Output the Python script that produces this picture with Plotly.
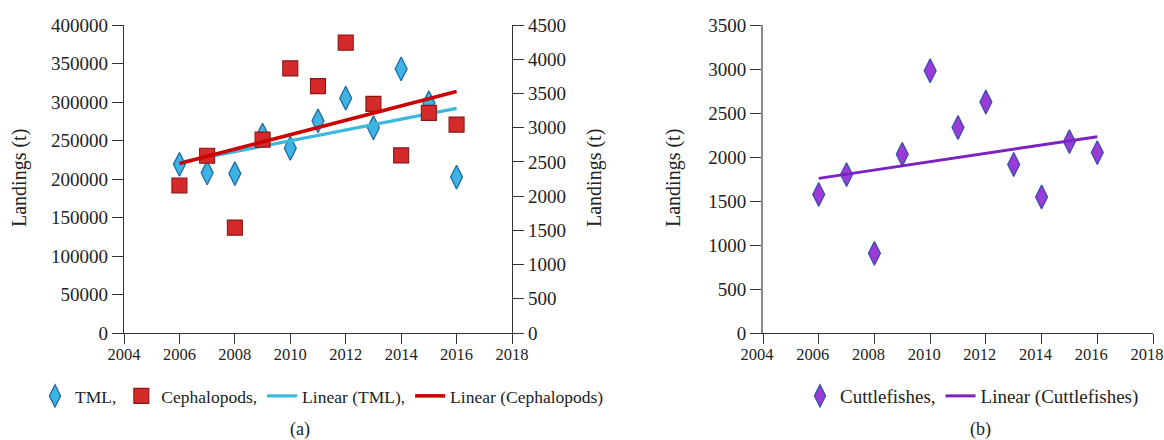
import numpy as np
import plotly.graph_objects as go

years = [2006, 2007, 2008, 2009, 2010, 2011, 2012, 2013, 2014, 2015, 2016]
tml = [219000, 208000, 207000, 257000, 240000, 275500, 305000, 266500, 343000, 299000, 202500]
cephalopods = [2155, 2590, 1540, 2825, 3866, 3607, 4242, 3348, 2595, 3216, 3045]
cuttlefishes = [1575, 1800, 905, 2030, 2980, 2335, 2625, 1915, 1545, 2175, 2050]

x_ticks = [2004, 2006, 2008, 2010, 2012, 2014, 2016, 2018]


def linear_fit(xs, ys):
    m, b = np.polyfit(xs, ys, 1)
    xe = [xs[0], xs[-1]]
    return xe, [m * v + b for v in xe]


FONT = "Times New Roman, Liberation Serif, DejaVu Serif, serif"
W, H = 1164, 440


def px_x(p):
    return p / W


def px_y(p):
    return 1 - p / H


fig = go.Figure()

fig.add_trace(go.Scatter(
    x=years, y=tml, mode="markers", name="TML,",
    marker=dict(symbol="diamond-tall", size=17, color="#3fb4e4",
                line=dict(color="#1d6aa5", width=1.3)),
    xaxis="x", yaxis="y", legend="legend"))
fig.add_trace(go.Scatter(
    x=years, y=cephalopods, mode="markers", name="Cephalopods,",
    marker=dict(symbol="square", size=15, color="#d42a2a",
                line=dict(color="#8a1515", width=1.1)),
    xaxis="x", yaxis="y2", legend="legend"))
lx, ly = linear_fit(years, tml)
fig.add_trace(go.Scatter(
    x=lx, y=ly, mode="lines", name="Linear (TML),",
    line=dict(color="#3cb8de", width=3.2),
    xaxis="x", yaxis="y", legend="legend"))
lx, ly = linear_fit(years, cephalopods)
fig.add_trace(go.Scatter(
    x=lx, y=ly, mode="lines", name="Linear (Cephalopods)",
    line=dict(color="#cc0000", width=3.6),
    xaxis="x", yaxis="y2", legend="legend"))

fig.add_trace(go.Scatter(
    x=years, y=cuttlefishes, mode="markers", name="Cuttlefishes,",
    marker=dict(symbol="diamond-tall", size=17, color="#9b3ad6",
                line=dict(color="#3a4fb0", width=1.3)),
    xaxis="x2", yaxis="y3", legend="legend2"))
lx, ly = linear_fit(years, cuttlefishes)
fig.add_trace(go.Scatter(
    x=lx, y=ly, mode="lines", name="Linear (Cuttlefishes)",
    line=dict(color="#7b22c0", width=3),
    xaxis="x2", yaxis="y3", legend="legend2"))

dom_y = [px_y(333), px_y(25)]
xa_common = dict(range=[2004, 2018], tickvals=x_ticks, ticks="outside", ticklen=10,
                 tickcolor="#333", showline=True, linecolor="#333", linewidth=1.3,
                 showgrid=False, zeroline=False, ticklabeloverflow="allow",
                 ticklabelstandoff=-4,
                 tickfont=dict(family=FONT, size=16.5, color="#222"))
ya_common = dict(ticks="outside", ticklen=11, tickcolor="#333", showline=True,
                 linecolor="#333", linewidth=1.3, showgrid=False, zeroline=False,
                 tickformat="d",
                 tickfont=dict(family=FONT, size=19, color="#222"))


def label(text, x, y, size, angle=0):
    return dict(text=text, textangle=angle, x=px_x(x), y=px_y(y), xref="paper",
                yref="paper", xanchor="center", yanchor="middle", showarrow=False,
                font=dict(family=FONT, size=size, color="#222"))


fig.update_layout(
    width=W, height=H,
    font=dict(family=FONT, color="#222"),
    margin=dict(l=0, r=0, t=0, b=0, autoexpand=False),
    paper_bgcolor="white", plot_bgcolor="white",
    showlegend=True,
    xaxis=dict(domain=[px_x(124), px_x(512)], anchor="y", **xa_common),
    yaxis=dict(domain=dom_y, anchor="x", range=[0, 400000], dtick=50000, side="left",
               **ya_common),
    yaxis2=dict(overlaying="y", anchor="x", side="right", range=[0, 4500], dtick=500,
                **ya_common),
    xaxis2=dict(domain=[px_x(763), px_x(1153)], anchor="y3", ticklabelshift=-6,
                **xa_common),
    yaxis3=dict(domain=dom_y, anchor="x2", range=[0, 3500], dtick=500,
                **{**ya_common, "linecolor": "#8a8a8a", "linewidth": 2}),
    legend=dict(orientation="h", x=px_x(322), y=px_y(396), xanchor="center",
                yanchor="middle", font=dict(family=FONT, size=17.5, color="#222"),
                bgcolor="rgba(0,0,0,0)", itemwidth=30),
    legend2=dict(orientation="h", x=px_x(972), y=px_y(396), xanchor="center",
                 yanchor="middle", font=dict(family=FONT, size=19, color="#222"),
                 bgcolor="rgba(0,0,0,0)", itemwidth=30),
    annotations=[
        label("Landings (t)", 19, 178, 20, -90),
        label("Landings (t)", 594, 178, 20, -90),
        label("Landings (t)", 673, 178, 20, -90),
        label("(a)", 300, 429, 18),
        label("(b)", 980, 429, 18),
    ],
)

fig.write_html(
    "out.html",
    config={"displayModeBar": False},
    post_script="document.body.style.margin='0px';document.body.style.overflow='hidden';",
)
